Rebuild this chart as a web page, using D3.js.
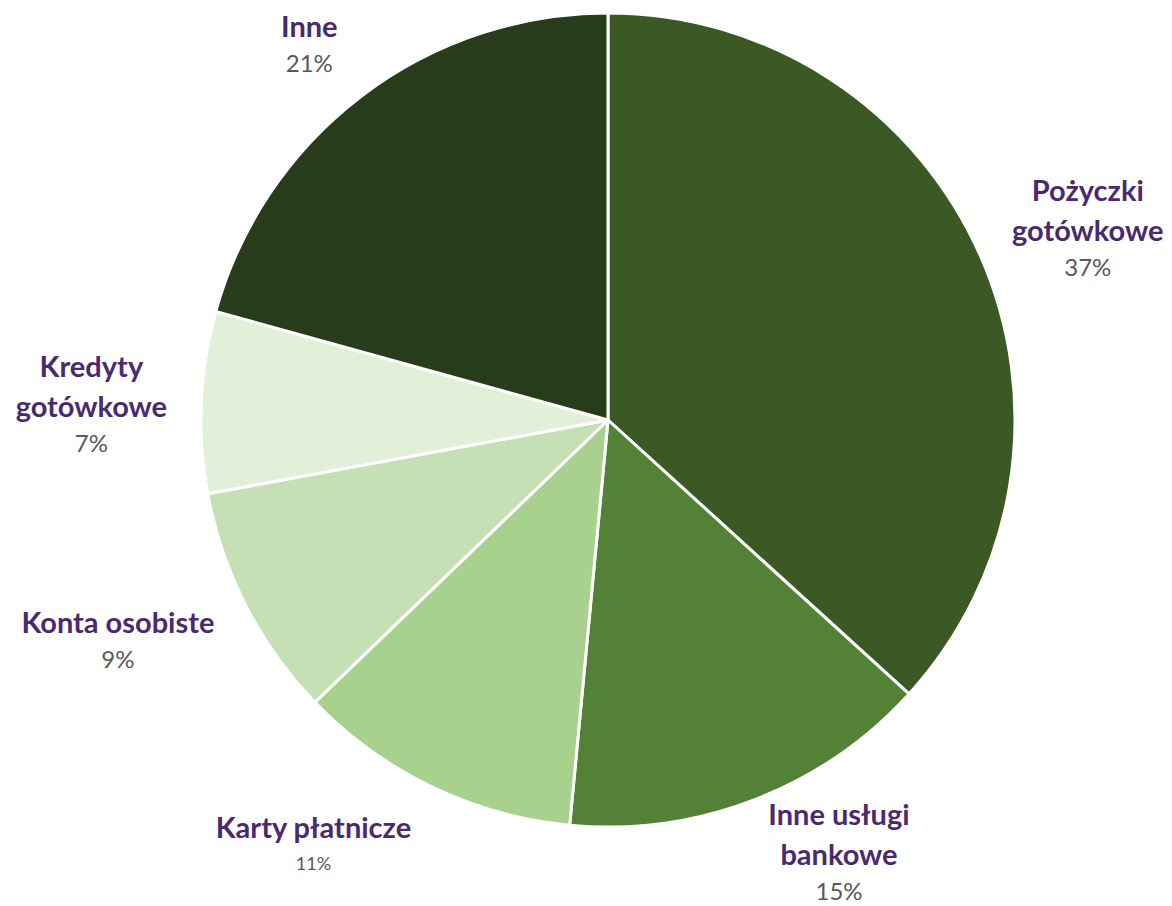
<!DOCTYPE html>
<html><head><meta charset="utf-8">
<script src="https://cdn.jsdelivr.net/npm/d3@7"></script>
<style>html,body{margin:0;padding:0;background:#fff}</style>
</head><body>
<svg id="c" width="1172" height="906"></svg>
<script>
const categories = ["Pożyczki gotówkowe","Inne usługi bankowe","Karty płatnicze","Konta osobiste","Kredyty gotówkowe","Inne"];
const labelLines = [["Pożyczki","gotówkowe"],["Inne usługi","bankowe"],["Karty płatnicze"],["Konta osobiste"],["Kredyty","gotówkowe"],["Inne"]];
const values = [36.75, 14.75, 11.3, 9.3, 7.2, 20.7];
const percentLabels = ["37%","15%","11%","9%","7%","21%"];
const colors = ["#3a5924","#538135","#a9d18e","#c5e0b4","#e2efd9","#273c1b"];

const cx = 608, cy = 420, R = 407;
// label placement: [angle offset (deg), distance factor, percent font size]
const labelLayout = [[2.0,1.27,24],[-7,1.203,24],[9,1.27,18],[3,1.32,24],[-0.7,1.27,24],[-1.2,1.18,24]];

const svg = d3.select("#c");
const g = svg.append("g").attr("transform",`translate(${cx},${cy})`);
const pie = d3.pie().sort(null).value(d=>d);
const arcs = pie(values);
const arc = d3.arc().innerRadius(0).outerRadius(R);
g.selectAll("path").data(arcs).join("path")
  .attr("d",arc).attr("fill",(d,i)=>colors[i])
  .attr("stroke","#fff").attr("stroke-width",3).attr("stroke-linejoin","round");

const lab = g.selectAll("g.lab").data(arcs).join("g").attr("class","lab")
  .attr("transform",(d,i)=>{
    const a = (d.startAngle+d.endAngle)/2 + labelLayout[i][0]*Math.PI/180;
    const r = R*labelLayout[i][1];
    return `translate(${r*Math.sin(a)},${-r*Math.cos(a)})`;
  });
lab.each(function(d,i){
  const s = d3.select(this);
  const lines = labelLines[i];
  const n = lines.length;
  const lh = 40;
  const top = -((n-1)*lh + 37)/2;
  lines.forEach((t,k)=>{
    s.append("text").attr("x",0).attr("y",top+k*lh)
      .attr("text-anchor","middle").attr("dominant-baseline","central")
      .attr("font-family","Lato, 'Open Sans', sans-serif").attr("font-weight","bold")
      .attr("font-size",29).attr("fill","#4a2a6f").text(t);
  });
  s.append("text").attr("x",0).attr("y",top+(n-1)*lh+37)
    .attr("text-anchor","middle").attr("dominant-baseline","central")
    .attr("font-family","Lato, 'Open Sans', sans-serif")
    .attr("font-size",labelLayout[i][2]).attr("fill","#595959").text(percentLabels[i]);
});
</script>
</body></html>
